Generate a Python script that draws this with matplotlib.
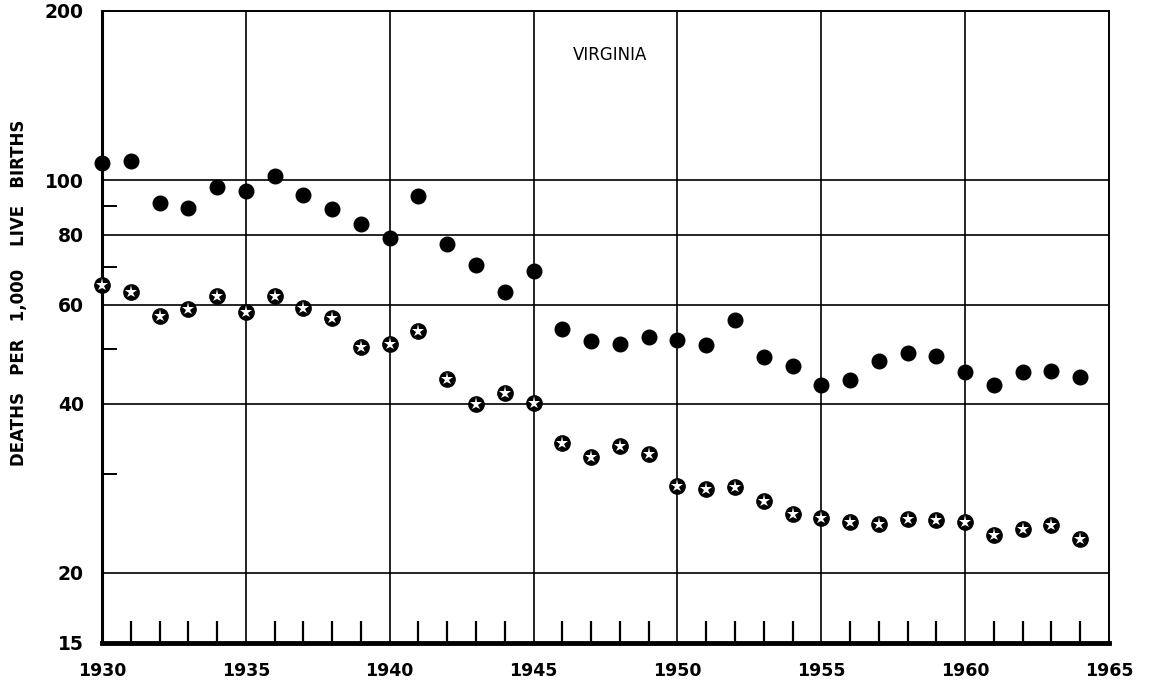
import matplotlib
matplotlib.use("Agg")
import matplotlib.pyplot as plt
from matplotlib.ticker import FixedLocator, FixedFormatter, NullFormatter

years = list(range(1930, 1965))
total_rate = [107.3, 108.0, 90.9, 89.2, 97.4, 95.5, 101.8, 94.2, 89.0, 83.7,
              78.8, 93.8, 76.9, 70.6, 63.1, 69.0, 54.3, 51.7, 51.0, 52.5,
              52.0, 50.8, 56.3, 48.5, 46.6, 43.2, 44.1, 47.7, 49.2, 48.7,
              45.5, 43.1, 45.5, 45.7, 44.7]
other_rate = [65.1, 63.1, 57.2, 59.0, 62.2, 58.2, 62.1, 59.1, 56.8, 50.4,
              51.0, 53.9, 44.3, 39.9, 41.8, 40.1, 34.0, 32.2, 33.7, 32.5,
              28.5, 28.2, 28.4, 26.8, 25.5, 25.0, 24.6, 24.4, 24.9, 24.8,
              24.6, 23.4, 23.9, 24.3, 23.0]

x_labels = [1930, 1935, 1940, 1945, 1950, 1955, 1960, 1965]
y_labels = [15, 20, 40, 60, 80, 100, 200]
y_grid = [20, 40, 60, 80, 100]
x_grid = [1935, 1940, 1945, 1950, 1955, 1960]
y_minor = [30, 50, 70, 90]
title = "VIRGINIA"
ylabel = "DEATHS   PER   1,000    LIVE   BIRTHS"

W, H = 1149, 684
fig = plt.figure(figsize=(W / 100, H / 100), dpi=100)
ax = fig.add_axes([102 / W, 41 / H, (1109 - 102) / W, (643 - 11) / H])
ax.set_yscale("log")
ax.set_xlim(1930, 1965)
ax.set_ylim(15, 200)

for g in y_grid:
    ax.axhline(g, color="black", lw=1.2, zorder=1)
for g in x_grid:
    ax.axvline(g, color="black", lw=1.2, zorder=1)

ax.plot(years, total_rate, "o", color="black", ms=10.5, zorder=3, clip_on=False)
ax.plot(years, other_rate, "o", color="black", ms=11, zorder=3, clip_on=False)
ax.plot(years, other_rate, "*", color="white", ms=9.5, mew=0, zorder=4, clip_on=False)

# x ticks
ax.xaxis.set_major_locator(FixedLocator(x_labels))
ax.xaxis.set_major_formatter(FixedFormatter([str(v) for v in x_labels]))
ax.xaxis.set_minor_locator(FixedLocator([y for y in years if y % 5 != 0]))
ax.tick_params(axis="x", which="major", length=0, pad=14)
ax.tick_params(axis="x", which="minor", direction="in", length=16, width=1.6,
               color="black")

# y ticks
ax.yaxis.set_major_locator(FixedLocator(y_labels))
ax.yaxis.set_major_formatter(FixedFormatter([str(v) for v in y_labels]))
ax.yaxis.set_minor_locator(FixedLocator(y_minor))
ax.yaxis.set_minor_formatter(NullFormatter())
ax.tick_params(axis="y", which="major", length=0, pad=13)
ax.tick_params(axis="y", which="minor", direction="in", length=11, width=1.4,
               color="black")

for lab in ax.get_xticklabels():
    lab.set_fontweight("bold")
    lab.set_fontsize(12.5)
for lab in ax.get_yticklabels():
    lab.set_fontweight("bold")
    lab.set_fontsize(13.5)

ax.spines["bottom"].set_linewidth(3.5)
ax.spines["left"].set_linewidth(2.2)
ax.spines["top"].set_linewidth(1.4)
ax.spines["right"].set_linewidth(1.4)

ax.text((610 - 102) / (1109 - 102), 1 - (55 - 11) / (643 - 11), title,
        transform=ax.transAxes, ha="center", va="center", fontsize=12)

fig.text(19 / W, 1 - 293 / H, ylabel, rotation=90, ha="center", va="center",
         fontsize=12, fontweight="bold")

fig.savefig("out.png", dpi=100)
